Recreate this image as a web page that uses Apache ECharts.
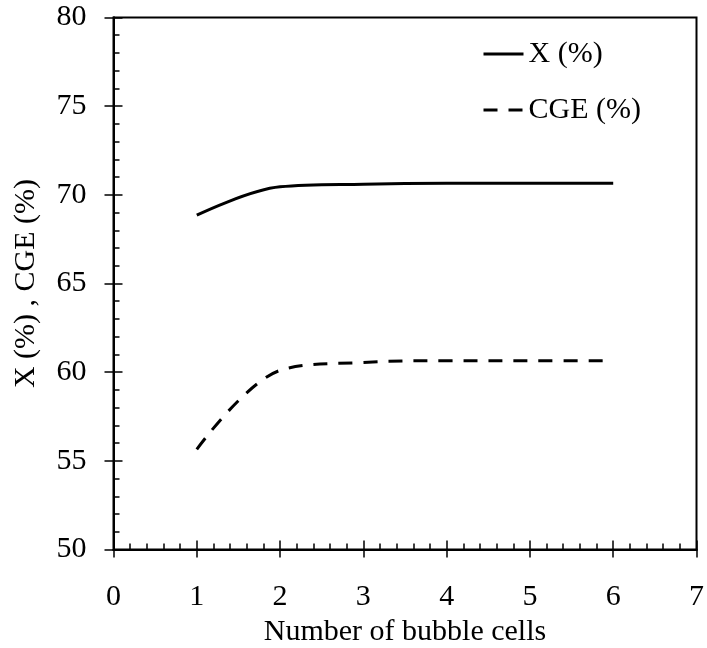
<!DOCTYPE html>
<html>
<head>
<meta charset="utf-8">
<style>
  html, body { margin: 0; padding: 0; background: #fff; }
  #chart { width: 707px; height: 648px; }
</style>
<script src="https://cdn.jsdelivr.net/npm/echarts@6/dist/echarts.min.js"></script>
</head>
<body>
<div id="chart"></div>
<script>
// Number of bubble cells vs conversion (X) and cold gas efficiency (CGE)
const cells = [1, 2, 3, 4, 5, 6];
const conversionX = [68.85, 70.45, 70.6, 70.65, 70.65, 70.65];
const cge = [55.65, 60.1, 60.55, 60.65, 60.65, 60.65];
const xTicks = [0, 1, 2, 3, 4, 5, 6, 7];
const yTicks = [50, 55, 60, 65, 70, 75, 80];

const font = 'Liberation Serif, Times New Roman, serif';
const fontSize = 30;
const dash = [14, 11];
const pair = (xs, ys) => xs.map((x, i) => [x, ys[i]]);

const chart = echarts.init(document.getElementById('chart'), null, { renderer: 'canvas' });

const baseX = {
  type: 'value', min: xTicks[0], max: xTicks[xTicks.length - 1], interval: 1,
  position: 'bottom', splitLine: { show: false },
  axisLine: { show: true, onZero: false, lineStyle: { color: '#000', width: 2 } }
};
const baseY = {
  type: 'value', min: yTicks[0], max: yTicks[yTicks.length - 1], interval: 5,
  position: 'left', splitLine: { show: false },
  axisLine: { show: true, onZero: false, lineStyle: { color: '#000', width: 2 } }
};
const tickLine = { color: '#000', width: 1.5 };

chart.setOption({
  animation: false,
  backgroundColor: '#fff',
  grid: {
    left: 113.5, right: 10.5, top: 17.5, bottom: 98.5,
    outerBoundsMode: 'none', containLabel: false,
    show: true, borderColor: '#000', borderWidth: 2, backgroundColor: 'transparent'
  },
  legend: {
    orient: 'vertical', left: 482, top: 39, padding: 0,
    itemWidth: 40, itemHeight: 14, itemGap: 26,
    itemStyle: { opacity: 0 },
    textStyle: { fontFamily: font, fontSize: fontSize, color: '#000', lineHeight: 30 },
    data: [
      { name: 'X (%)', lineStyle: { type: 'solid', width: 3, color: '#000' } },
      { name: 'CGE (%)', lineStyle: { type: dash, width: 3, color: '#000' } }
    ]
  },
  xAxis: [
    Object.assign({}, baseX, {
      name: 'Number of bubble cells', nameLocation: 'middle', nameGap: 65,
      nameTextStyle: { fontFamily: font, fontSize: fontSize, color: '#000' },
      axisTick: { show: true, inside: true, length: 9, lineStyle: tickLine },
      minorTick: { show: true, splitNumber: 5, length: 6, lineStyle: tickLine },
      axisLabel: { show: true, margin: 33, fontFamily: font, fontSize: fontSize, color: '#000' }
    }),
    Object.assign({}, baseX, {
      axisTick: { show: true, inside: false, length: 8, lineStyle: tickLine },
      axisLabel: { show: false }
    })
  ],
  yAxis: [
    Object.assign({}, baseY, {
      name: 'X (%) , CGE (%)', nameLocation: 'middle', nameGap: 72,
      nameTextStyle: { fontFamily: font, fontSize: fontSize, color: '#000' },
      axisTick: { show: true, inside: true, length: 9, lineStyle: tickLine },
      minorTick: { show: true, splitNumber: 5, length: 6, lineStyle: tickLine },
      axisLabel: { show: true, margin: 27, fontFamily: font, fontSize: fontSize, color: '#000' }
    }),
    Object.assign({}, baseY, {
      axisTick: { show: true, inside: false, length: 9, lineStyle: tickLine },
      axisLabel: { show: false }
    })
  ],
  series: [
    {
      name: 'X (%)', type: 'line', xAxisIndex: 0, yAxisIndex: 0,
      data: pair(cells, conversionX), smooth: 0.35, symbol: 'none',
      lineStyle: { color: '#000', width: 3 }, itemStyle: { color: '#000' }
    },
    {
      name: 'CGE (%)', type: 'line', xAxisIndex: 0, yAxisIndex: 0,
      data: pair(cells, cge), smooth: 0.35, symbol: 'none',
      lineStyle: { color: '#000', width: 3, type: dash }, itemStyle: { color: '#000' }
    }
  ]
});
</script>
</body>
</html>
